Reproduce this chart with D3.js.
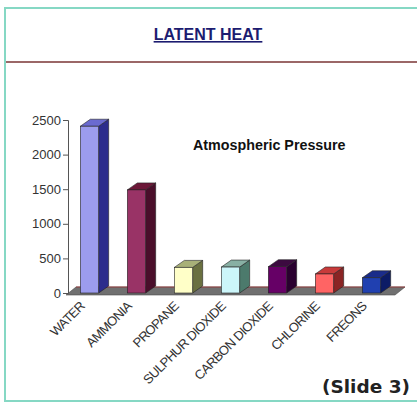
<!DOCTYPE html>
<html>
<head>
<meta charset="utf-8">
<script src="https://cdn.jsdelivr.net/npm/d3@7"></script>
<style>
  html, body { margin: 0; padding: 0; background: #fff; }
  svg { display: block; }
</style>
</head>
<body>
<div id="chart"></div>
<script>
const categories = ["WATER", "AMMONIA", "PROPANE", "SULPHUR DIOXIDE", "CARBON DIOXIDE", "CHLORINE", "FREONS"];
const values = [2410, 1490, 370, 375, 380, 275, 220];
const yTicks = [0, 500, 1000, 1500, 2000, 2500];
const frontColors = ["#9c9cee", "#993366", "#ffffc8", "#ccf6fa", "#660066", "#ff6464", "#2040b0"];
const sideColors = ["#2c2c8c", "#4a0e2a", "#6a7040", "#4c7a6c", "#2a0030", "#8a2424", "#0c1c66"];
const topColors = ["#6a6ad0", "#6c1838", "#a8b078", "#88b0a4", "#3c0a40", "#c83a3a", "#1a2c8a"];

const width = 417, height = 403;
const depth = { dx: 10, dy: -7 };

const svg = d3.select("#chart").append("svg")
  .attr("width", width).attr("height", height);

// frame
svg.append("rect")
  .attr("x", 5).attr("y", 8).attr("width", 420).attr("height", 393)
  .attr("fill", "none").attr("stroke", "#86d8c4").attr("stroke-width", 2);

svg.append("line")
  .attr("x1", 6).attr("x2", width).attr("y1", 62).attr("y2", 62)
  .attr("stroke", "#7a3434").attr("stroke-width", 1.5);

// title
svg.append("text")
  .attr("x", 208).attr("y", 40)
  .attr("text-anchor", "middle")
  .attr("font-family", "Liberation Sans, Arial, sans-serif")
  .attr("font-weight", "bold").attr("font-size", 16)
  .attr("fill", "#1c1c70")
  .attr("text-decoration", "underline")
  .text("LATENT HEAT");

const x = d3.scaleBand().domain(categories).range([66, 395]);
const y = d3.scaleLinear().domain([0, 2500]).range([293, 120]);
const barW = x.step() * 0.39;

// floor
const fx0 = x.range()[0], fx1 = x.range()[1], fy = y(0) + 1;
svg.append("polygon")
  .attr("points", [[fx0, fy + 1], [fx1, fy + 1], [fx1 + depth.dx, fy + depth.dy], [fx0 + depth.dx, fy + depth.dy]].join(" "))
  .attr("fill", "#707070").attr("stroke", "#4a4a4a").attr("stroke-width", 0.6);
svg.append("line")
  .attr("x1", fx0 + depth.dx).attr("x2", fx1 + depth.dx)
  .attr("y1", fy + depth.dy).attr("y2", fy + depth.dy)
  .attr("stroke", "#9a4444").attr("stroke-width", 1);

// y axis
svg.append("g")
  .attr("transform", "translate(68,0)")
  .call(d3.axisLeft(y).tickValues(yTicks).tickSize(5).tickPadding(2).tickFormat(d3.format("d")))
  .call(g => g.select(".domain").attr("stroke", "#555"))
  .call(g => g.selectAll(".tick line").attr("stroke", "#555"))
  .call(g => g.selectAll(".tick text")
    .attr("font-family", "Liberation Sans, Arial, sans-serif")
    .attr("font-size", 13).attr("fill", "#333"));

// bars
const bars = svg.append("g").selectAll("g")
  .data(categories.map((c, i) => ({ c, v: values[i], i })))
  .join("g");

bars.each(function (d) {
  const g = d3.select(this);
  const cx = x(d.c) + x.bandwidth() / 2;
  const x0 = cx - barW / 2, x1 = cx + barW / 2;
  const yt = y(d.v), yb = y(0);
  g.append("polygon")
    .attr("points", [[x1, yt], [x1 + depth.dx, yt + depth.dy], [x1 + depth.dx, yb + depth.dy], [x1, yb]].join(" "))
    .attr("fill", sideColors[d.i]).attr("stroke", "#222").attr("stroke-width", 0.6);
  g.append("polygon")
    .attr("points", [[x0, yt], [x0 + depth.dx, yt + depth.dy], [x1 + depth.dx, yt + depth.dy], [x1, yt]].join(" "))
    .attr("fill", topColors[d.i]).attr("stroke", "#222").attr("stroke-width", 0.6);
  g.append("rect")
    .attr("x", x0).attr("y", yt).attr("width", barW).attr("height", yb - yt)
    .attr("fill", frontColors[d.i]).attr("stroke", "#222").attr("stroke-width", 0.6);
});

// category labels
svg.append("g").selectAll("text")
  .data(categories)
  .join("text")
  .attr("transform", d => `translate(${x(d) + x.bandwidth() / 2 - 4},${y(0) + 14}) rotate(-45)`)
  .attr("text-anchor", "end")
  .attr("font-family", "Liberation Sans, Arial, sans-serif")
  .attr("font-size", 13).attr("letter-spacing", -0.6)
  .attr("fill", "#333")
  .text(d => d);

svg.append("text")
  .attr("x", 193).attr("y", 150)
  .attr("font-family", "Liberation Sans, Arial, sans-serif")
  .attr("font-weight", "bold").attr("font-size", 14.3)
  .attr("fill", "#111")
  .text("Atmospheric Pressure");

svg.append("text")
  .attr("x", 410).attr("y", 393)
  .attr("text-anchor", "end")
  .attr("font-family", "DejaVu Sans, Verdana, sans-serif")
  .attr("font-weight", "bold").attr("font-size", 18.5)
  .attr("fill", "#222")
  .text("(Slide 3)");
</script>
</body>
</html>
